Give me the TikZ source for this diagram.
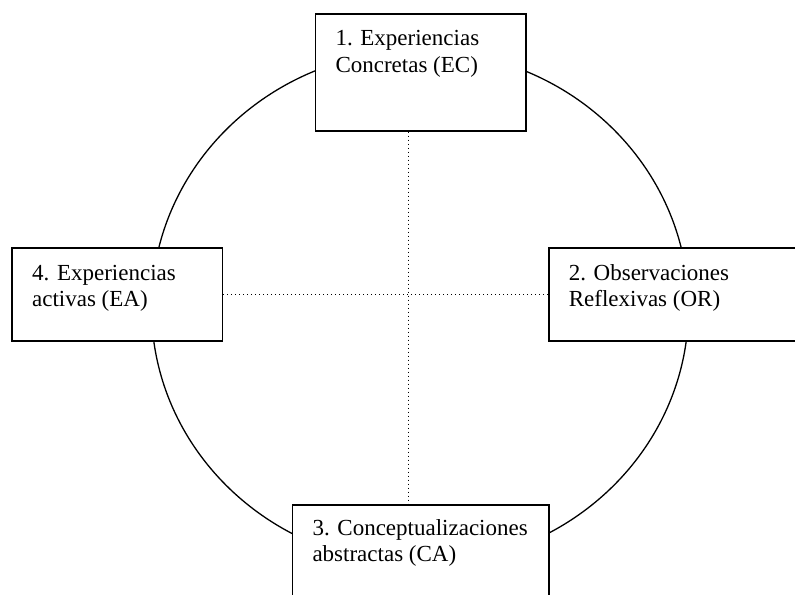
\documentclass[tikz,border=0pt]{standalone}
\usepackage{fontspec}
\setmainfont{Liberation Serif}
\usetikzlibrary{positioning}

\newcommand{\etapa}[4]{\parbox[t][#1][t]{#2}{\raggedright\leftskip=10pt\fontsize{11.5}{13.35}\selectfont\rule{0pt}{#3}#4}}

\begin{document}
\begin{tikzpicture}[x=0.5pt,y=-0.5pt,
  caja/.style={draw, line width=0.8pt, fill=white, inner sep=0pt, anchor=north west},
  eje/.style={line width=0.5pt, dash pattern=on 0.5pt off 1.5pt}]
\useasboundingbox (0,0) rectangle (795,594);
\clip (0,0) rectangle (795,594);
\draw[line width=0.65pt] (420,307.5) ellipse [x radius=134.25pt, y radius=128.5pt];

\node[caja] (1) at (314.7,13) {\etapa{58.5pt}{105.2pt}{16pt}{1. Experiencias\\Concretas (EC)}};
\node[caja] (2) at (548,247.3) {\etapa{46.5pt}{135pt}{16pt}{2. Observaciones\\Reflexivas (OR)}};
\node[caja] (3) at (291.7,504.3) {\etapa{58.5pt}{128.3pt}{15pt}{3. Conceptualizaciones\\abstractas (CA)}};
\node[caja] (4) at (11.3,247.3) {\etapa{46.5pt}{105.2pt}{16pt}{4. Experiencias\\activas (EA)}};

\coordinate (x0) at (408.7,0);
\draw[eje] (1.south -| x0) -- (3.north -| x0);
\draw[eje] (4.east) -- (2.west);
\end{tikzpicture}
\end{document}
